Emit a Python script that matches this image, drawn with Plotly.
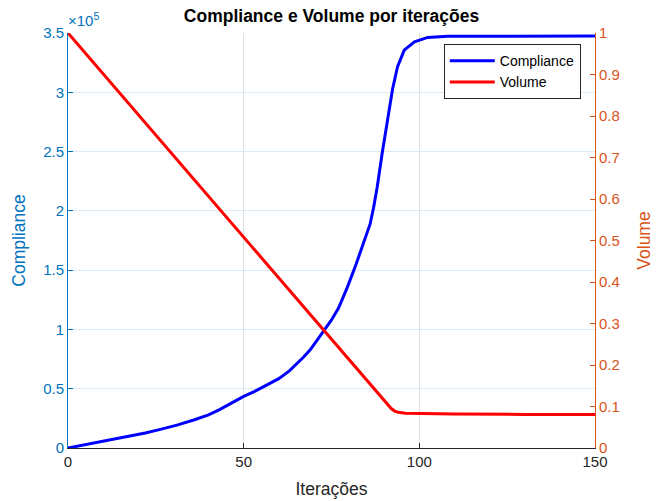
import plotly.graph_objects as go

# Data
comp_iter = [0, 4, 7, 12, 17, 22, 26, 31, 36, 40, 43, 46, 50, 53, 56, 60, 63, 65, 67, 69, 71, 73, 75, 77,
             79.5, 82, 84, 85, 86, 87, 88, 89.5, 91, 92.4, 93.8, 95.7, 98.6, 102.4, 108, 120, 150]
compliance = [0, 2200, 4200, 7000, 9900, 12700, 15500, 19300, 23800, 28000, 32200, 37000, 43500, 47500,
              52000, 58500, 65000, 70500, 76500, 83000, 91000, 99500, 108000, 118000,
              135500, 155000, 172000, 180000, 189000, 203000, 220000, 250000, 277000, 303000, 321500,
              335600, 342600, 346300, 347200, 347400, 347400]

vol_iter = [0, 91, 92, 93, 94, 96, 100, 110, 130, 150]
volume = [1.0, 0.105, 0.095, 0.089, 0.086, 0.084, 0.083, 0.082, 0.081, 0.081]

y_ticks = [0, 50000, 100000, 150000, 200000, 250000, 300000, 350000]
y_tick_text = ["0", "0.5", "1", "1.5", "2", "2.5", "3", "3.5"]
y2_ticks = [0, 0.1, 0.2, 0.3, 0.4, 0.5, 0.6, 0.7, 0.8, 0.9, 1.0]
y2_tick_text = ["0", "0.1", "0.2", "0.3", "0.4", "0.5", "0.6", "0.7", "0.8", "0.9", "1"]
x_ticks = [0, 50, 100, 150]

BLUE_AX = "#0072BD"
ORANGE_AX = "#D95319"
FONT = "Liberation Sans, Arial, Helvetica, sans-serif"

fig = go.Figure()
fig.add_trace(go.Scatter(x=comp_iter, y=compliance, mode="lines", name="Compliance",
                         line=dict(color="#0000FF", width=3), yaxis="y"))
fig.add_trace(go.Scatter(x=vol_iter, y=volume, mode="lines", name="Volume",
                         line=dict(color="#FF0000", width=3), yaxis="y2"))

fig.update_layout(
    width=662, height=501,
    margin=dict(l=68, r=67, t=33, b=53, autoexpand=False),
    paper_bgcolor="white", plot_bgcolor="white",
    font=dict(family=FONT, size=15, color="#262626"),
    title=dict(text="<b>Compliance e Volume por iterações</b>", x=0.5, xref="paper",
               y=0.968, yref="container", xanchor="center", yanchor="middle",
               font=dict(size=17.5, color="#000000")),
    xaxis=dict(range=[0, 150], tickvals=x_ticks, ticks="inside", ticklen=5,
               tickcolor="#262626", showline=True, linecolor="#262626", linewidth=1,
               showgrid=True, gridcolor="#dfdfdf", gridwidth=1, zeroline=False,
               automargin=False, tickfont=dict(size=15, color="#262626"),
               title=dict(text="Iterações", font=dict(size=17.5, color="#262626"), standoff=13)),
    yaxis=dict(range=[0, 350000], tickvals=y_ticks, ticktext=y_tick_text, ticks="inside",
               ticklen=5, tickcolor=BLUE_AX, showline=True, linecolor=BLUE_AX, linewidth=1,
               showgrid=True, gridcolor="#dbeaf5", gridwidth=1, zeroline=False,
               automargin=False, tickfont=dict(size=15, color=BLUE_AX),
               title=dict(text="Compliance", font=dict(size=17.5, color=BLUE_AX), standoff=13)),
    yaxis2=dict(range=[0, 1], tickvals=y2_ticks, ticktext=y2_tick_text, ticks="inside",
                ticklen=5, tickcolor=ORANGE_AX, showline=True, linecolor=ORANGE_AX, linewidth=1,
                showgrid=False, zeroline=False, overlaying="y", side="right",
                automargin=False, tickfont=dict(size=15, color=ORANGE_AX),
                title=dict(text="Volume", font=dict(size=17.5, color=ORANGE_AX), standoff=18)),
    legend=dict(x=0.973, y=0.973, xanchor="right", yanchor="top", bgcolor="white",
                bordercolor="#262626", borderwidth=1, font=dict(size=14, color="#000000"),
                tracegroupgap=0, itemwidth=45),
    showlegend=True,
)

fig.add_annotation(text="×10<sup>5</sup>", xref="paper", yref="paper", x=0, y=1,
                   xanchor="left", yanchor="bottom", showarrow=False, xshift=-2, yshift=2,
                   font=dict(size=15, color=BLUE_AX, family=FONT))

fig.write_html("out.html", config={"displayModeBar": False},
               post_script="document.body.style.margin='0';")
